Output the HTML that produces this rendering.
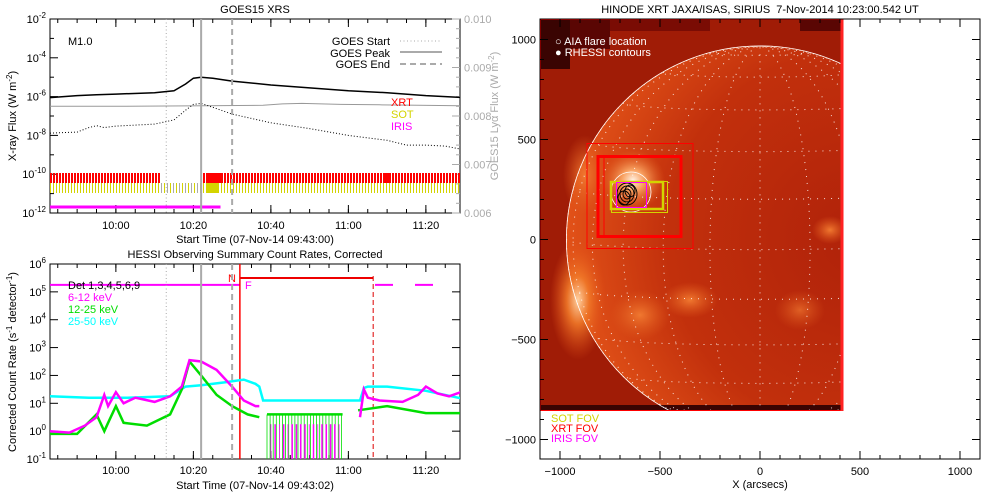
<!DOCTYPE html>
<html><head><meta charset="utf-8">
<style>
html,body{margin:0;padding:0;background:#fff;}
svg{display:block;font-family:"Liberation Sans",sans-serif;}
text{font-size:11px;}
</style></head>
<body>
<svg id="root" width="1000" height="500" viewBox="0 0 1000 500">
<defs>
<clipPath id="clipTop"><rect x="50" y="19" width="410" height="194"/></clipPath>
<clipPath id="clipBot"><rect x="50" y="264" width="410" height="195"/></clipPath>
<clipPath id="clipImg"><rect x="540" y="19" width="303" height="392"/></clipPath>
<radialGradient id="limbGlow1" cx="0.5" cy="0.5" r="0.5"><stop offset="0" stop-color="#ffd0a0"/><stop offset="0.4" stop-color="#f07828" stop-opacity="0.9"/><stop offset="1" stop-color="#e05018" stop-opacity="0"/></radialGradient>
<radialGradient id="arGlow" cx="0.5" cy="0.5" r="0.5"><stop offset="0" stop-color="#fff0e0"/><stop offset="0.35" stop-color="#f8a060"/><stop offset="1" stop-color="#e06020" stop-opacity="0"/></radialGradient>
<radialGradient id="spotGlow" cx="0.5" cy="0.5" r="0.5"><stop offset="0" stop-color="#f07830"/><stop offset="1" stop-color="#e05a1c" stop-opacity="0"/></radialGradient>
<radialGradient id="diskGrad" cx="0.75" cy="0.5" r="0.75"><stop offset="0" stop-color="#b0220a"/><stop offset="0.65" stop-color="#c2300c"/><stop offset="1" stop-color="#e25218"/></radialGradient>
</defs>

<!-- ============ TOP PANEL ============ -->
<g>
<text x="255" y="13" text-anchor="middle">GOES15 XRS</text>
<rect x="50" y="19" width="410" height="194" fill="none" stroke="#000" stroke-width="1"/>
<g id="topLeftAxis"></g>
<g id="topRightAxis"></g>
<g id="topXAxis"></g>
<text transform="translate(16,116) rotate(-90)" text-anchor="middle">X-ray Flux (W m<tspan dy="-4" font-size="8">-2</tspan><tspan dy="4">)</tspan></text>
<text transform="translate(498,116) rotate(-90)" text-anchor="middle" fill="#aaa">GOES15 Lyα Flux (W m<tspan dy="-4" font-size="8">-2</tspan><tspan dy="4">)</tspan></text>
<text x="255" y="243" text-anchor="middle">Start Time (07-Nov-14 09:43:00)</text>
<g id="topMarks" clip-path="url(#clipTop)"></g>
<text x="68" y="45">M1.0</text>
<g>
<text x="390" y="45" text-anchor="end">GOES Start</text>
<line x1="400" y1="41" x2="442" y2="41" stroke="#aaa" stroke-dasharray="1,2.5"/>
<text x="390" y="57" text-anchor="end">GOES Peak</text>
<line x1="400" y1="52" x2="442" y2="52" stroke="#aaa" stroke-width="2"/>
<text x="390" y="68" text-anchor="end">GOES End</text>
<line x1="400" y1="64" x2="442" y2="64" stroke="#aaa" stroke-width="2" stroke-dasharray="6,4"/>
<text x="391" y="106" fill="#f00">XRT</text>
<text x="391" y="118" fill="#d4d400">SOT</text>
<text x="391" y="130" fill="#f0f">IRIS</text>
</g>
</g>

<!-- ============ BOTTOM PANEL ============ -->
<g>
<text x="255" y="258" text-anchor="middle">HESSI Observing Summary Count Rates, Corrected</text>
<rect x="50" y="264" width="410" height="195" fill="none" stroke="#000"/>
<g id="botYAxis"></g>
<g id="botXAxis"></g>
<text transform="translate(16,362) rotate(-90)" text-anchor="middle">Corrected Count Rate (s<tspan dy="-4" font-size="8">-1</tspan><tspan dy="4"> detector</tspan><tspan dy="-4" font-size="8">-1</tspan><tspan dy="4">)</tspan></text>
<text x="255" y="489" text-anchor="middle">Start Time (07-Nov-14 09:43:02)</text>
<g id="botMarks" clip-path="url(#clipBot)"></g>
<g>
<text x="68" y="289">Det 1,3,4,5,6,9</text>
<text x="68" y="301" fill="#f0f">6-12 keV</text>
<text x="68" y="313" fill="#0d0">12-25 keV</text>
<text x="68" y="325" fill="#0ff">25-50 keV</text>
</g>
<text x="228" y="282" fill="#f00" font-size="10">N</text>
<text x="245" y="289" fill="#f0f" font-size="10">F</text>
</g>

<!-- ============ RIGHT PANEL ============ -->
<g>
<text x="760" y="13" text-anchor="middle">HINODE XRT JAXA/ISAS, SIRIUS &#160;7-Nov-2014 10:23:00.542 UT</text>
<g clip-path="url(#clipImg)">
<rect x="540" y="19" width="303" height="392" fill="#a01c06"/>
<rect x="540" y="19" width="70" height="30" fill="#5a0603"/>
<rect x="540" y="19" width="30" height="50" fill="#3a0402"/>
<rect x="610" y="19" width="100" height="12" fill="#7a0c04"/>
<rect x="800" y="19" width="43" height="12" fill="#5a0603"/>
<circle cx="760" cy="239.5" r="194" fill="url(#diskGrad)"/>
<ellipse cx="578" cy="300" rx="28" ry="60" fill="url(#limbGlow1)"/>
<ellipse cx="585" cy="175" rx="22" ry="40" fill="url(#spotGlow)"/>
<ellipse cx="640" cy="315" rx="30" ry="25" fill="url(#spotGlow)"/>
<ellipse cx="690" cy="300" rx="28" ry="18" fill="url(#spotGlow)"/>
<ellipse cx="830" cy="230" rx="18" ry="14" fill="url(#spotGlow)"/>
<ellipse cx="800" cy="310" rx="25" ry="20" fill="url(#spotGlow)" opacity="0.7"/>
<ellipse cx="633" cy="180" rx="32" ry="30" fill="url(#arGlow)"/>
<rect x="540" y="405" width="303" height="6" fill="#3a0402"/>
<g id="grid" opacity="0.85"></g>
<circle cx="760" cy="239.5" r="193.6" fill="none" stroke="#fff" stroke-width="0.8"/>
</g>
<rect x="540.5" y="19.5" width="302" height="391" fill="none" stroke="#f00" stroke-width="1"/>
<line x1="842" y1="19" x2="842" y2="411" stroke="#f22" stroke-width="3"/>
<g>
<rect x="587" y="143.5" width="106" height="105" fill="none" stroke="#f00" stroke-width="1"/>
<rect x="598" y="156.5" width="83" height="80" fill="none" stroke="#f00" stroke-width="3"/>
<rect x="604" y="157" width="78" height="79" fill="none" stroke="#f00" stroke-width="1"/>
<circle cx="631" cy="192" r="20" fill="none" stroke="#fff" stroke-width="0.8"/>
<rect x="611.5" y="181.5" width="56" height="31" fill="none" stroke="#d4d400" stroke-width="1"/>
<rect x="611" y="182" width="52" height="27" fill="none" stroke="#d4d400" stroke-width="2.5"/>
<g fill="none" stroke="#000" stroke-width="0.9">
<ellipse cx="627" cy="194" rx="10" ry="11"/><ellipse cx="627" cy="194" rx="7" ry="8"/><ellipse cx="627" cy="194" rx="4" ry="5"/>
<ellipse cx="624" cy="198" rx="6" ry="7"/><ellipse cx="630" cy="191" rx="5" ry="6"/>
</g>
<rect x="616.5" y="182.5" width="30" height="25" fill="none" stroke="#f0f" stroke-width="1"/>
</g>
<rect x="540" y="19" width="440" height="440" fill="none" stroke="#000"/>
<g id="imgAxes"></g>
<text x="555" y="45" fill="#fff" font-size="10">○ AIA flare location</text>
<text x="555" y="56" fill="#fff" font-size="10">● RHESSI contours</text>
<text x="551" y="422" fill="#d4d400" font-size="10">SOT FOV</text>
<text x="551" y="432" fill="#f00" font-size="10">XRT FOV</text>
<text x="551" y="442" fill="#f0f" font-size="10">IRIS FOV</text>
<text x="760" y="488" text-anchor="middle">X (arcsecs)</text>
</g>
</svg>

<script>
// ---------- DATA ----------
// times in minutes since 09:43
const goesLongT = [0,7,12,17,27,32,35,37,39,42,47,57,67,77,87,97,107];
const goesLongV = [-6.05,-5.95,-5.9,-5.87,-5.8,-5.7,-5.35,-5.05,-5.0,-5.05,-5.2,-5.4,-5.55,-5.7,-5.8,-5.95,-6.05];
const goesShortT = [0,7,10,12,14,17,27,32,35,37,39,42,47,57,67,77,87,92,97,102,107];
const goesShortV = [-7.88,-7.83,-7.6,-7.5,-7.6,-7.52,-7.42,-7.2,-6.7,-6.4,-6.35,-6.55,-6.9,-7.35,-7.65,-8.0,-8.25,-8.5,-8.5,-8.55,-8.75];
const lyaT = [0,20,40,55,60,65,75,85,95,107];
const lyaV = [0.00820,0.00820,0.00821,0.00822,0.00825,0.00826,0.00824,0.00823,0.00822,0.00821];
const xTickLabels = ["10:00","10:20","10:40","11:00","11:20"];
const xTickMins = [17,37,57,77,97];
const topYTickExp = [-2,-4,-6,-8,-10,-12];
const rightTickVals = [0.006,0.007,0.008,0.009,0.010];
const goesEventMins = [30,39,47]; // start, peak, end

const hessiCyanT = [0,10,20,31,35,39,45,50,53,54,55,80,81,82,87,97,107];
const hessiCyanV = [1.25,1.2,1.2,1.25,1.6,1.65,1.75,1.85,1.7,1.6,1.1,1.1,1.55,1.6,1.6,1.45,1.15];
const hessiMagT = [0,5,9,12,14,15,17,19,22,27,31,34,36,39,43,47,50,53,54];
const hessiMagV = [0.0,-0.05,0.2,0.5,1.3,0.9,1.4,1.0,1.2,1.05,1.25,1.6,2.55,2.5,2.2,1.6,1.1,0.9,0.9];
const hessiMagT2 = [80,81,82,85,91,95,97,100,103,107];
const hessiMagV2 = [0.5,1.5,1.2,1.1,1.05,1.3,1.6,1.35,1.25,1.45];
const hessiGrnT = [0,7,12,14,15,17,19,25,31,34,36,39,43,47,51,54];
const hessiGrnV = [-0.1,-0.1,0.6,0.0,0.3,0.9,0.3,0.2,0.6,1.5,2.5,2.0,1.3,0.9,0.6,0.5];
const hessiGrnT2 = [56,75.5];
const hessiGrnV2 = [0.6,0.6];
const hessiGrnT3 = [79.5,87,97,107];
const hessiGrnV3 = [0.75,0.9,0.65,0.65];
const botYTickExp = [6,5,4,3,2,1,0,-1];
const hessiFlagMins = [49,83.4]; // red vertical lines

// ---------- SCALES ----------
const xT = m => 50 + m*3.875;
const yTop = l => 19 + (-2 - l)*19.4;
const yLya = v => 19 + (0.010 - v)/0.004*194;
const yBot = l => 264 + (6 - l)*27.86;
const ximg = a => 760 + a*0.2;
const yimg = a => 239.5 - a*0.2;

const NS="http://www.w3.org/2000/svg";
function mk(tag, attrs, parent){const e=document.createElementNS(NS,tag);for(const k in attrs)e.setAttribute(k,attrs[k]);parent.appendChild(e);return e;}
function path(ts,vs,xf,yf){return ts.map((t,i)=>(i?'L':'M')+xf(t).toFixed(1)+','+yf(vs[i]).toFixed(1)).join('');}
function supText(parent,x,y,base,exp,anchor,fill){
  const t=mk('text',{x:x,y:y,'text-anchor':anchor,fill:fill||'#000'},parent);
  t.innerHTML=base+'<tspan dy="-5" font-size="8">'+exp+'</tspan>';
  return t;
}

// ---------- TOP AXES ----------
const tla=document.getElementById('topLeftAxis');
topYTickExp.forEach(e=>{
  const y=yTop(e);
  mk('line',{x1:50,y1:y,x2:58,y2:y,stroke:'#000'},tla);
  const t=supText(tla,46,y+4,'10',e,'end');
  
  
});
for(let e=-3;e>=-11;e-=2){const y=yTop(e);mk('line',{x1:50,y1:y,x2:54,y2:y,stroke:'#000'},tla);}
const tra=document.getElementById('topRightAxis');
rightTickVals.forEach(v=>{
  const y=yLya(v);
  mk('line',{x1:452,y1:y,x2:460,y2:y,stroke:'#aaa'},tra);
  const t=mk('text',{x:464,y:y+4,fill:'#aaa'},tra);
  t.textContent=v.toFixed(3);
  
  
});
for(let v=0.0062;v<0.01;v+=0.0002){const y=yLya(v);mk('line',{x1:456,y1:y,x2:460,y2:y,stroke:'#aaa'},tra);}
function xAxis(g,yb,ytop,ylab){
  xTickMins.forEach((m,i)=>{
    const x=xT(m);
    mk('line',{x1:x,y1:yb,x2:x,y2:yb-8,stroke:'#000'},g);
    mk('line',{x1:x,y1:ytop,x2:x,y2:ytop+8,stroke:'#000'},g);
    const t=mk('text',{x:x,y:ylab,'text-anchor':'middle'},g);
    t.textContent=xTickLabels[i];
    
    
  });
  for(let m=2;m<107;m+=5){const x=xT(m);mk('line',{x1:x,y1:yb,x2:x,y2:yb-4,stroke:'#000'},g);mk('line',{x1:x,y1:ytop,x2:x,y2:ytop+4,stroke:'#000'},g);}
}
xAxis(document.getElementById('topXAxis'),213,19,229);

// ---------- TOP MARKS ----------
const tm=document.getElementById('topMarks');
for(let x=50;x<460;x+=3){
  const inGap = x>159 && x<203;
  if(!inGap){mk('rect',{x:x,y:173,width:(x>203&&x<220)||(x>380&&x<388)?3:2,height:10,fill:'#f00'},tm);}
  mk('rect',{x:x,y:183,width:(x>203&&x<216)?3:1,height:10,fill:inGap&&x%2?'#aaa':'#d4d400'},tm);
}
const iris=mk('rect',{x:50,y:205.5,width:xT(44)-50,height:3,fill:'#f0f'},tm);


const evStyles=[{da:'1,2.5',w:1},{da:'',w:2},{da:'6,4',w:2}];
const evNames=['goes-start-line','goes-peak-line','goes-end-line'];
goesEventMins.forEach((m,i)=>{
  [[19,213],[264,459]].forEach(r=>{
    const l=mk('line',{x1:xT(m),y1:r[0],x2:xT(m),y2:r[1],stroke:'#aaa','stroke-width':evStyles[i].w,'stroke-dasharray':evStyles[i].da},document.getElementById('root'));
    
    
  });
});
const lya=mk('path',{d:path(lyaT,lyaV,xT,yLya),fill:'none',stroke:'#999','stroke-width':1},tm);


const gs=mk('path',{d:path(goesShortT,goesShortV,xT,yTop),fill:'none',stroke:'#000','stroke-width':1,'stroke-dasharray':'1,2'},tm);


const gl=mk('path',{d:path(goesLongT,goesLongV,xT,yTop),fill:'none',stroke:'#000','stroke-width':1.5},tm);



// ---------- BOTTOM AXES ----------
const bya=document.getElementById('botYAxis');
botYTickExp.forEach(e=>{
  const y=yBot(e);
  mk('line',{x1:50,y1:y,x2:58,y2:y,stroke:'#000'},bya);
  mk('line',{x1:452,y1:y,x2:460,y2:y,stroke:'#000'},bya);
  const t=supText(bya,46,y+4,'10',e,'end');
  
  
});
xAxis(document.getElementById('botXAxis'),459,264,474);

// ---------- BOTTOM MARKS ----------
const bm=document.getElementById('botMarks');
const flagY=yBot(5.25);
mk('line',{x1:50,y1:flagY,x2:xT(hessiFlagMins[0]),y2:flagY,stroke:'#f0f','stroke-width':2},bm);
mk('line',{x1:375,y1:flagY,x2:393,y2:flagY,stroke:'#f0f','stroke-width':2},bm);
mk('line',{x1:415,y1:flagY,x2:433,y2:flagY,stroke:'#f0f','stroke-width':2},bm);
mk('line',{x1:xT(hessiFlagMins[0]),y1:278,x2:xT(hessiFlagMins[1]),y2:278,stroke:'#e00','stroke-width':2},bm);
const rv1=mk('line',{x1:xT(hessiFlagMins[0]),y1:264,x2:xT(hessiFlagMins[0]),y2:459,stroke:'#f00','stroke-width':1.5},bm);


const rv2=mk('line',{x1:xT(hessiFlagMins[1]),y1:276,x2:xT(hessiFlagMins[1]),y2:459,stroke:'#d00','stroke-width':1,'stroke-dasharray':'5,3'},bm);


for(let m=56;m<75.5;m+=0.8){
  const x=xT(m);
  mk('line',{x1:x,y1:yBot(0.6),x2:x,y2:459,stroke:'#0d0','stroke-width':0.8},bm);
}
for(let m=57;m<75;m+=1.1){
  const x=xT(m);
  mk('line',{x1:x,y1:yBot(0.25),x2:x,y2:459,stroke:'#f0f','stroke-width':(m*7|0)%3?1.5:0.8},bm);
}
const series=[
 [hessiCyanT,hessiCyanV,'#0ff','hessi-25-50kev-line'],
 [hessiGrnT,hessiGrnV,'#0d0','hessi-12-25kev-line'],
 [hessiGrnT2,hessiGrnV2,'#0d0','hessi-12-25kev-line-2'],
 [hessiGrnT3,hessiGrnV3,'#0d0','hessi-12-25kev-line-3'],
 [hessiMagT,hessiMagV,'#f0f','hessi-6-12kev-line'],
 [hessiMagT2,hessiMagV2,'#f0f','hessi-6-12kev-line-2']
];
series.forEach(s=>{
  const p=mk('path',{d:path(s[0],s[1],xT,yBot),fill:'none',stroke:s[2],'stroke-width':2.5},bm);
  
  
});

// ---------- IMAGE GRID ----------
const grid=document.getElementById('grid');
const R=968;
const latList=[-75,-60,-45,-30,-15,0,15,30,45,60,75];
const lonList=[-90,-75,-60,-45,-30,-15,0,15,30,45,60,75,90];
const B0=3*Math.PI/180;
function proj(lat,lon){
  const la=lat*Math.PI/180, lo=lon*Math.PI/180;
  const x=R*Math.cos(la)*Math.sin(lo);
  const y=R*(Math.sin(la)*Math.cos(B0)-Math.cos(la)*Math.cos(lo)*Math.sin(B0));
  return [ximg(x),yimg(y)];
}
latList.forEach(lat=>{
  let d='';for(let lo=-90;lo<=90;lo+=3){const p=proj(lat,lo);d+=(d?'L':'M')+p[0].toFixed(1)+','+p[1].toFixed(1);}
  mk('path',{d:d,fill:'none',stroke:'#fff','stroke-width':1,'stroke-dasharray':'1,6'},grid);
});
lonList.forEach(lon=>{
  let d='';for(let la=-90;la<=90;la+=3){const p=proj(la,lon);d+=(d?'L':'M')+p[0].toFixed(1)+','+p[1].toFixed(1);}
  mk('path',{d:d,fill:'none',stroke:'#fff','stroke-width':1,'stroke-dasharray':'1,6'},grid);
});

// ---------- IMAGE AXES ----------
const ia=document.getElementById('imgAxes');
[-1000,-500,0,500,1000].forEach(v=>{
  const x=ximg(v), y=yimg(v);
  mk('line',{x1:x,y1:459,x2:x,y2:451,stroke:'#000'},ia);
  mk('line',{x1:x,y1:19,x2:x,y2:27,stroke:'#000'},ia);
  mk('line',{x1:540,y1:y,x2:548,y2:y,stroke:'#000'},ia);
  mk('line',{x1:972,y1:y,x2:980,y2:y,stroke:'#000'},ia);
  const tx=mk('text',{x:x,y:475,'text-anchor':'middle'},ia);
  tx.textContent=v===0?'0':(v<0?'\u2212'+(-v):String(v));
  
  
  const ty=mk('text',{x:536,y:y+4,'text-anchor':'end'},ia);
  ty.textContent=v===0?'0':(v<0?'\u2212'+(-v):String(v));
  
  
});
for(let v=-1000;v<=1000;v+=100){
  const x=ximg(v), y=yimg(v);
  mk('line',{x1:x,y1:459,x2:x,y2:455,stroke:'#000'},ia);
  mk('line',{x1:x,y1:19,x2:x,y2:23,stroke:'#000'},ia);
  mk('line',{x1:540,y1:y,x2:544,y2:y,stroke:'#000'},ia);
  mk('line',{x1:976,y1:y,x2:980,y2:y,stroke:'#000'},ia);
}
</script>
</body></html>
